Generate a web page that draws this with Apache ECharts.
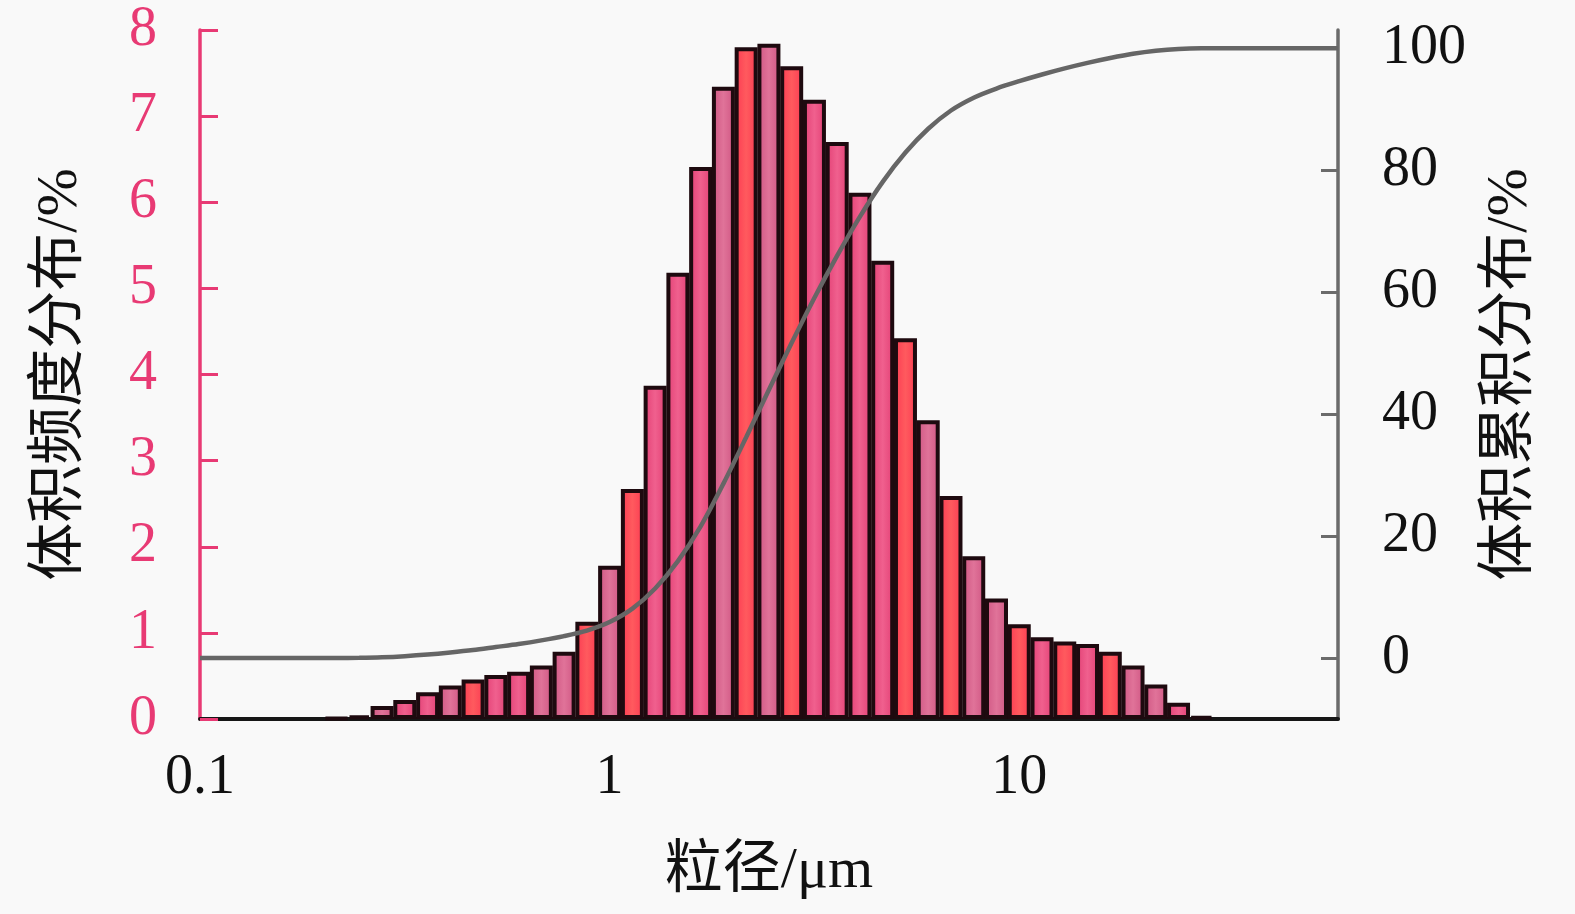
<!DOCTYPE html>
<html><head><meta charset="utf-8">
<script src="https://cdn.jsdelivr.net/npm/echarts@6/dist/echarts.min.js"></script>
<style>html,body{margin:0;padding:0;background:#f9f9f9}#c{width:1575px;height:914px}</style>
</head><body><div id="c"></div>
<script>
// particle size bin centres (µm)
const sizes = [0.2154,0.2448,0.2783,0.3162,0.3594,0.4084,0.4642,0.5275,0.5995,0.6813,0.7743,0.8799,1,1.1365,1.2915,1.4678,1.6681,1.8957,2.1544,2.4484,2.7826,3.1623,3.5938,4.0842,4.6416,5.2749,5.9948,6.8129,7.7426,8.7992,10,11.365,12.915,14.678,16.681,18.957,21.544,24.484,27.826];
// volume frequency distribution (%)
const freq = [0.01,0.04,0.15,0.22,0.31,0.39,0.46,0.51,0.55,0.62,0.78,1.13,1.78,2.67,3.87,5.18,6.41,7.34,7.80,7.84,7.58,7.19,6.70,6.11,5.32,4.42,3.47,2.59,1.89,1.40,1.10,0.95,0.90,0.87,0.78,0.62,0.40,0.19,0.03];
// cumulative distribution curve
const cumSizes = [0.1,0.2154,0.2448,0.2783,0.3162,0.3594,0.4084,0.4642,0.5275,0.5995,0.6813,0.7743,0.8799,1,1.1365,1.2915,1.4678,1.6681,1.8957,2.1544,2.4484,2.7826,3.1623,3.5938,4.0842,4.6416,5.2749,5.9948,6.8129,7.7426,8.7992,10,11.365,12.915,14.678,16.681,18.957,21.544,24.484,27.826,60];
const cum = [0,0,0.03,0.12,0.3,0.56,0.9,1.3,1.8,2.3,2.9,3.6,4.5,5.9,8.1,11.4,15.9,21.6,28.6,36.2,44.0,51.7,59.1,66.0,72.4,78.1,82.9,86.8,89.8,91.9,93.4,94.6,95.7,96.7,97.6,98.4,99.1,99.6,99.9,100,100];
// tick labels
const xTicks = [0.1,1,10];
const leftTicks = [0,1,2,3,4,5,6,7,8];
const rightTicks = [0,20,40,60,80,100];

const P=['#e23f74','#f0608e'], R=['#fb3a52','#ff5a5e'], M=['#cf5582','#e07399'];
const barColors = [M,M,M,P,P,M,R,P,P,M,M,R,M,R,P,P,P,M,R,M,R,P,P,P,P,R,M,R,M,M,R,P,R,P,R,M,M,P,P];
function grad(c){
  return new echarts.graphic.LinearGradient(0,0,1,0,[
    {offset:0,color:c[0]},{offset:0.5,color:c[1]},{offset:1,color:c[0]}]);
}

const serif = '"Liberation Serif","Times New Roman",serif';
const nameFont = '"Liberation Serif","Noto Sans CJK SC",serif';
const pink = '#e83a74', gray = '#6b6b6b';

const chart = echarts.init(document.getElementById('c'), null, {renderer:'canvas'});
chart.setOption({
  backgroundColor:'#f9f9f9',
  animation:false,
  grid:{left:200,right:237,top:30,bottom:195,containLabel:false},
  xAxis:{
    type:'log', logBase:10, min:0.1, max:60,
    name:'粒径/μm', nameLocation:'middle', nameGap:124,
    nameTextStyle:{fontFamily:nameFont,fontSize:58,color:'#111'},
    axisLine:{lineStyle:{color:'#161616',width:4}},
    axisTick:{show:false},
    splitLine:{show:false},
    minorTick:{show:false},
    axisLabel:{customValues:xTicks,fontFamily:serif,fontSize:56,color:'#111',margin:31,
      formatter:v=>String(v)}
  },
  yAxis:[{
    type:'value', min:0, max:8, interval:1, position:'left',
    name:'体积频度分布/%', nameLocation:'middle', nameGap:110, nameRotate:90,
    nameTextStyle:{fontFamily:nameFont,fontSize:58,color:'#111'},
    axisLine:{show:true,lineStyle:{color:pink,width:3.5}},
    axisTick:{show:true,inside:true,length:18,lineStyle:{color:pink,width:3}},
    splitLine:{show:false},
    axisLabel:{customValues:leftTicks,fontFamily:serif,fontSize:56,color:pink,margin:43,padding:[5,0,0,0]}
  },{
    type:'value', min:-10, max:103, position:'right',
    name:'体积累积分布/%', nameLocation:'middle', nameGap:144, nameRotate:90,
    nameTextStyle:{fontFamily:nameFont,fontSize:58,color:'#111'},
    axisLine:{show:true,lineStyle:{color:gray,width:3.5}},
    axisTick:{show:true,inside:true,length:17,customValues:rightTicks,lineStyle:{color:gray,width:3}},
    splitLine:{show:false},
    axisLabel:{customValues:rightTicks,fontFamily:serif,fontSize:56,color:'#111',margin:44,padding:[8,0,0,0]}
  }],
  series:[{
    type:'bar', xAxisIndex:0, yAxisIndex:0, barWidth:23,
    data: sizes.map((s,i)=>({value:[s,freq[i]], itemStyle:{color:grad(barColors[i%barColors.length])}})),
    itemStyle:{borderColor:'#1e0a0f',borderWidth:4},
    z:2
  },{
    type:'line', xAxisIndex:0, yAxisIndex:1, smooth:0.3, symbol:'none',
    data: cumSizes.map((s,i)=>[s,cum[i]]),
    lineStyle:{color:'#666666',width:4.5},
    z:3
  }]
});
</script></body></html>
